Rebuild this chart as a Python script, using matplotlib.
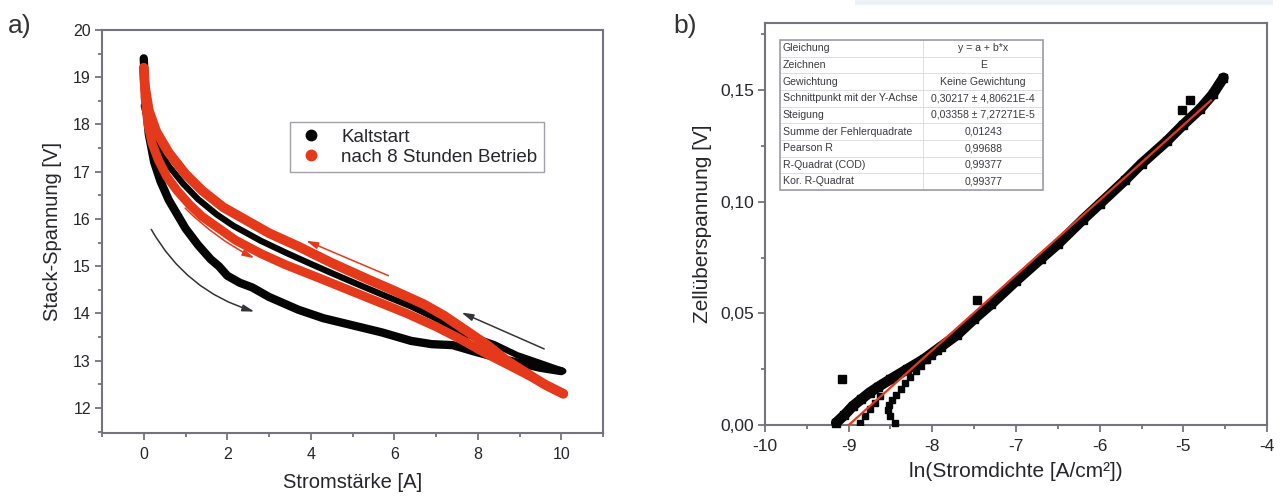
import matplotlib
matplotlib.use("Agg")
import matplotlib.pyplot as plt
from matplotlib.ticker import MultipleLocator, FuncFormatter
from matplotlib.patches import Rectangle
from matplotlib.lines import Line2D

plt.rcParams['font.family'] = ['Liberation Sans', 'DejaVu Sans']

# ---------------- data: panel a) stack voltage vs. current ----------------
kalt_up_x = [0, 0.05, 0.12, 0.25, 0.4, 0.6, 0.8, 1.0, 1.3, 1.6, 1.8, 1.9, 2.0, 2.3, 2.6,
             3.0, 3.7, 4.3, 5.0, 5.7, 6.4, 6.9, 7.4, 7.9, 8.4, 9.0, 9.5, 10.0]
kalt_up_y = [19.4, 18.5, 17.8, 17.2, 16.8, 16.4, 16.1, 15.8, 15.45, 15.15, 15.0, 14.9, 14.8,
             14.65, 14.55, 14.35, 14.08, 13.9, 13.75, 13.6, 13.42, 13.35, 13.33, 13.2, 13.08,
             12.95, 12.85, 12.78]
kalt_down_x = [10.05, 9.5, 8.94, 8.4, 7.74, 6.94, 6.4, 5.82, 5.2, 4.54, 4.0, 3.42, 2.8, 2.14,
               1.74, 1.3, 0.94, 0.6, 0.3, 0.12, 0.0]
kalt_down_y = [12.78, 12.95, 13.12, 13.35, 13.55, 13.92, 14.15, 14.36, 14.59, 14.84, 15.05,
               15.28, 15.54, 15.86, 16.1, 16.42, 16.75, 17.12, 17.55, 17.95, 18.4]
betr_up_x = [0, 0.03, 0.1, 0.2, 0.35, 0.55, 0.8, 1.1, 1.4, 1.8, 2.2, 2.8, 3.4, 4.2, 4.9,
             5.6, 6.3, 7.0, 7.6, 8.2, 8.8, 9.3, 9.7, 10.05]
betr_up_y = [19.2, 18.6, 18.0, 17.6, 17.25, 16.9, 16.6, 16.3, 16.05, 15.8, 15.55, 15.27,
             15.03, 14.75, 14.5, 14.25, 14.0, 13.72, 13.45, 13.15, 12.88, 12.65, 12.45, 12.3]
betr_down_x = [10.05, 9.6, 9.2, 8.7, 8.2, 7.7, 7.2, 6.7, 6.0, 5.3, 4.5, 3.7, 3.0, 2.4, 1.9,
               1.4, 1.0, 0.6, 0.3, 0.12, 0.03, 0]
betr_down_y = [12.3, 12.5, 12.72, 13.0, 13.35, 13.65, 13.95, 14.2, 14.48, 14.75, 15.07, 15.42,
               15.7, 16.0, 16.25, 16.6, 16.95, 17.4, 17.85, 18.3, 18.8, 19.2]
legend_labels = ["Kaltstart", "nach 8 Stunden Betrieb"]

# ---------------- data: panel b) Tafel plot ----------------
tafel_x = [-9.15, -9.05, -8.95, -8.85, -8.75, -8.65, -8.5, -8.3, -8.1, -7.9, -7.7, -7.5,
           -7.3, -7.0, -6.7, -6.5, -6.2, -6.0, -5.7, -5.5, -5.2, -5.0, -4.8, -4.65, -4.52]
tafel_y = [0.001, 0.0045, 0.0085, 0.0115, 0.0145, 0.017, 0.0205, 0.025, 0.0295, 0.035,
           0.0405, 0.0475, 0.054, 0.0645, 0.0745, 0.081, 0.092, 0.099, 0.1095, 0.117,
           0.127, 0.1345, 0.1415, 0.148, 0.1555]
trail_a_x = [-8.86, -8.8, -8.74, -8.68, -8.62]
trail_a_y = [0.001, 0.004, 0.007, 0.010, 0.013]
trail_b_x = [-8.45, -8.5, -8.53, -8.52, -8.48, -8.43, -8.38, -8.33, -8.27, -8.2, -8.13,
             -8.06, -8.0, -7.93]
trail_b_y = [0.001, 0.004, 0.0065, 0.009, 0.011, 0.0135, 0.016, 0.019, 0.0215, 0.024,
             0.0265, 0.029, 0.031, 0.033]
outlier_x = [-9.08, -7.47, -5.02, -4.92]
outlier_y = [0.0208, 0.0558, 0.1412, 0.1455]

fit_intercept = 0.30217
fit_intercept_err = "4,80621E-4"
fit_slope = 0.03358
fit_slope_err = "7,27271E-5"
fit_x_range = [-9.0, -4.67]
fit_rss = 0.01243
fit_pearson = 0.99688
fit_r2 = 0.99377
fit_r2_adj = 0.99377


def de(v, n):
    return f"{v:.{n}f}".replace(".", ",")


table_rows = [
    ["Gleichung", "y = a + b*x"],
    ["Zeichnen", "E"],
    ["Gewichtung", "Keine Gewichtung"],
    ["Schnittpunkt mit der Y-Achse", f"{de(fit_intercept, 5)} \u00b1 {fit_intercept_err}"],
    ["Steigung", f"{de(fit_slope, 5)} \u00b1 {fit_slope_err}"],
    ["Summe der Fehlerquadrate", de(fit_rss, 5)],
    ["Pearson R", de(fit_pearson, 5)],
    ["R-Quadrat (COD)", de(fit_r2, 5)],
    ["Kor. R-Quadrat", de(fit_r2_adj, 5)],
]

# ---------------- styling ----------------
W, H = 1280, 499
SPINE = "#77727f"
TXT = "#26262b"
RED = "#e5391b"
BLACK = "#050505"

fig = plt.figure(figsize=(W / 100, H / 100), dpi=100)
fig.patch.set_facecolor("white")

# faint band along the top right edge
fig.patches.append(Rectangle((855 / W, 1 - 5 / H), (1273 - 855) / W, 5 / H,
                             transform=fig.transFigure, facecolor="#edf2f6",
                             edgecolor="none", zorder=0))


def px_axes(x0, y0, x1, y1):
    return fig.add_axes([x0 / W, 1 - y1 / H, (x1 - x0) / W, (y1 - y0) / H])


def style_axes(ax, size):
    for s in ax.spines.values():
        s.set_color(SPINE)
        s.set_linewidth(1.5)
    ax.tick_params(which="both", direction="out", color=SPINE, width=1.3,
                   labelcolor=TXT, labelsize=size)
    ax.tick_params(which="major", length=5)
    ax.tick_params(which="minor", length=3)
    ax.tick_params(axis="x", pad=5)
    ax.tick_params(axis="y", pad=3)


# ---------------- panel a) ----------------
ax1 = px_axes(102, 30, 603, 433)
style_axes(ax1, 11.5)
ax1.plot(kalt_up_x, kalt_up_y, color=BLACK, lw=6, solid_capstyle="round",
         solid_joinstyle="round", zorder=3)
ax1.plot(kalt_down_x, kalt_down_y, color=BLACK, lw=4.5, solid_capstyle="round",
         solid_joinstyle="round", zorder=3)
ax1.plot(betr_up_x, betr_up_y, color=RED, lw=6.5, solid_capstyle="round",
         solid_joinstyle="round", zorder=4)
ax1.plot(betr_down_x, betr_down_y, color=RED, lw=7, solid_capstyle="round",
         solid_joinstyle="round", zorder=4)

arrow_black = dict(arrowstyle="-|>,head_length=0.7,head_width=0.2", color="#333338", lw=1.1,
                   shrinkA=0, shrinkB=0)
arrow_red = dict(arrowstyle="-|>,head_length=0.7,head_width=0.2", color=RED, lw=1.1,
                 shrinkA=0, shrinkB=0)
ax1.annotate("", xy=(2.65, 14.04), xytext=(0.18, 15.78),
             arrowprops=dict(arrow_black, connectionstyle="arc3,rad=0.2"), zorder=5)
ax1.annotate("", xy=(2.65, 15.17), xytext=(0.99, 16.23),
             arrowprops=dict(arrow_red, connectionstyle="arc3,rad=0.08"), zorder=5)
ax1.annotate("", xy=(3.89, 15.54), xytext=(5.86, 14.8), arrowprops=arrow_red, zorder=5)
ax1.annotate("", xy=(7.61, 14.02), xytext=(9.59, 13.25), arrowprops=arrow_black, zorder=5)

ax1.set_xlim(-1, 11)
ax1.set_ylim(11.47, 20)
ax1.xaxis.set_major_locator(MultipleLocator(2))
ax1.xaxis.set_minor_locator(MultipleLocator(1))
ax1.yaxis.set_major_locator(MultipleLocator(1))
ax1.yaxis.set_minor_locator(MultipleLocator(0.5))
ax1.xaxis.set_major_formatter(FuncFormatter(lambda v, p: f"{v:.0f}"))
ax1.yaxis.set_major_formatter(FuncFormatter(lambda v, p: f"{v:.0f}"))
ax1.set_xlabel("Stromstärke [A]", fontsize=14.5, color=TXT, labelpad=8)
ax1.set_ylabel("Stack-Spannung [V]", fontsize=14.5, color=TXT, labelpad=8)

handles = [Line2D([], [], ls="none", marker="o", ms=7.5, color=BLACK),
           Line2D([], [], ls="none", marker="o", ms=7.5, color=RED)]
leg = ax1.legend(handles, legend_labels, loc="upper left",
                 bbox_to_anchor=(0.375, 0.772), fontsize=13.5, frameon=True,
                 fancybox=False, edgecolor="#8c8894", handlelength=1.5,
                 handletextpad=0.9, borderpad=0.35, labelspacing=0.15,
                 borderaxespad=0)
leg.get_frame().set_linewidth(1.0)
for t in leg.get_texts():
    t.set_color(TXT)

fig.text(8 / W, 1 - 33 / H, "a)", fontsize=19, color="#333", ha="left",
         va="baseline")

# ---------------- panel b) ----------------
ax2 = px_axes(765, 23, 1267, 425)
style_axes(ax2, 12.5)
ax2.plot(tafel_x, tafel_y, color=BLACK, lw=7.5, marker="s", ms=6,
         solid_capstyle="round", zorder=3, clip_on=False)
ax2.plot(trail_a_x, trail_a_y, ls="none", marker="s", ms=4.5, color=BLACK, zorder=3)
ax2.plot(trail_b_x, trail_b_y, ls="none", marker="s", ms=4.5, color=BLACK, zorder=3,
         clip_on=False)
ax2.plot(outlier_x, outlier_y, ls="none", marker="s", ms=6, color=BLACK, zorder=3)

fit_y = [fit_intercept + fit_slope * x for x in fit_x_range]
ax2.plot(fit_x_range, fit_y, color=RED, lw=1.6, zorder=4)

ax2.set_xlim(-10, -4)
ax2.set_ylim(0, 0.18)
ax2.xaxis.set_major_locator(MultipleLocator(1))
ax2.xaxis.set_minor_locator(MultipleLocator(0.5))
ax2.yaxis.set_major_locator(MultipleLocator(0.05))
ax2.yaxis.set_minor_locator(MultipleLocator(0.025))
ax2.xaxis.set_major_formatter(FuncFormatter(lambda v, p: f"{v:.0f}".replace("\u2212", "-")))
ax2.yaxis.set_major_formatter(FuncFormatter(lambda v, p: de(v, 2)))
ax2.set_xlabel("ln(Stromdichte [A/cm\u00b2])", fontsize=15, color=TXT, labelpad=6)
ax2.set_ylabel("Zellüberspannung [V]", fontsize=15, color=TXT, labelpad=6)

tbl = ax2.table(cellText=table_rows, cellLoc="center", colWidths=[0.544, 0.456],
                bbox=[0.030, 0.585, 0.524, 0.373], zorder=6)
tbl.auto_set_font_size(False)
tbl.set_fontsize(7.6)
for (r, c), cell in tbl.get_celld().items():
    cell.set_edgecolor("#dcdce0")
    cell.set_linewidth(0.6)
    cell.set_facecolor("white")
    cell.get_text().set_color("#3a3a40")
    if c == 0:
        cell.get_text().set_ha("left")
        cell.PAD = 0.02
        cell._loc = "left"
ax2.add_patch(Rectangle((0.030, 0.585), 0.524, 0.373, transform=ax2.transAxes,
                        fill=False, edgecolor="#a09ca8", lw=1.2, zorder=7))

fig.text(673 / W, 1 - 33 / H, "b)", fontsize=19, color="#333", ha="left",
         va="baseline")

fig.savefig("out.png", dpi=100, facecolor="white")
